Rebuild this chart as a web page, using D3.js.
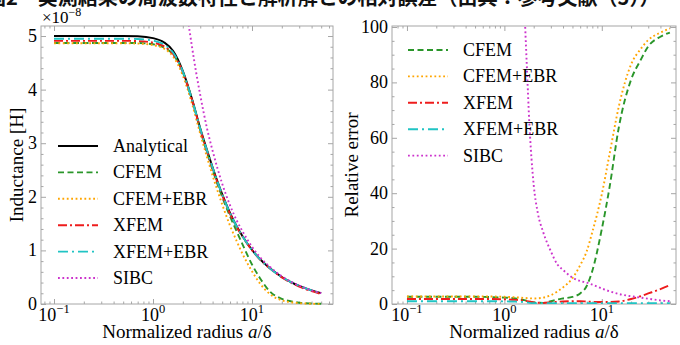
<!DOCTYPE html>
<html>
<head>
<meta charset="utf-8">
<script src="https://cdn.jsdelivr.net/npm/d3@7"></script>
<style>
  body { margin: 0; background: #fff; }
  text { font-family: "Liberation Serif", "Times New Roman", serif; }
</style>
</head>
<body>
<script>
// normalized radius a/delta (shared grid)
const radius = [0.1, 0.15, 0.2, 0.3, 0.5, 0.7, 1, 1.3, 1.6, 2, 2.5, 3, 3.5, 4, 5, 6, 7, 8, 10, 12, 15, 20, 25, 30, 40, 50];

// inductance, x1e-8 H
const analytical = [5, 5, 5, 5, 5, 4.995, 4.96, 4.88, 4.72, 4.35, 3.8, 3.28, 2.88, 2.55, 2.05, 1.7, 1.45, 1.27, 1.01, 0.84, 0.675, 0.505, 0.405, 0.337, 0.253, 0.202];
const cfem = [4.87, 4.87, 4.87, 4.87, 4.87, 4.87, 4.846, 4.782, 4.654, 4.324, 3.785, 3.247, 2.834, 2.499, 1.997, 1.635, 1.356, 1.118, 0.737, 0.487, 0.243, 0.096, 0.049, 0.024, 0.009, 0.004];
const cfemEbr = [4.865, 4.865, 4.865, 4.865, 4.865, 4.86, 4.831, 4.763, 4.616, 4.263, 3.713, 3.175, 2.75, 2.397, 1.859, 1.462, 1.175, 0.94, 0.61, 0.386, 0.192, 0.068, 0.032, 0.016, 0.005, 0.001];
const xfem = [4.91, 4.91, 4.91, 4.91, 4.91, 4.905, 4.876, 4.807, 4.663, 4.324, 3.785, 3.26, 2.857, 2.527, 2.03, 1.683, 1.437, 1.26, 1.003, 0.834, 0.669, 0.496, 0.394, 0.324, 0.239, 0.188];
const xfemEbr = [4.95, 4.95, 4.95, 4.95, 4.95, 4.945, 4.913, 4.839, 4.687, 4.337, 3.789, 3.27, 2.871, 2.542, 2.044, 1.695, 1.446, 1.266, 1.007, 0.837, 0.673, 0.503, 0.404, 0.336, 0.252, 0.201];

// SIBC only shows up above a/delta ~ 1.6
const sibcRadius = [1.6, 1.7, 1.8, 2, 2.2, 2.5, 3, 3.5, 4, 5, 6, 7, 8, 10, 12, 15, 20, 25, 30, 40, 50];
const sibc = [9.8, 8.65, 7.59, 6.22, 5.48, 4.75, 3.9, 3.29, 2.86, 2.245, 1.84, 1.56, 1.36, 1.067, 0.879, 0.699, 0.519, 0.414, 0.343, 0.256, 0.204];

// relative error, %
const errCfem = [2.6, 2.6, 2.6, 2.6, 2.6, 2.5, 2.3, 2.0, 1.4, 0.6, 0.4, 1.0, 1.6, 2.0, 2.6, 3.8, 6.5, 12, 27, 42, 64, 81, 88, 93, 96.5, 98];
const errCfemEbr = [2.7, 2.7, 2.7, 2.7, 2.7, 2.7, 2.6, 2.4, 2.2, 2.0, 2.3, 3.2, 4.5, 6, 9.3, 14, 19, 26, 39.6, 54, 71.5, 86.5, 92, 95.3, 98, 99.5];
const errXfem = [1.8, 1.8, 1.8, 1.8, 1.8, 1.8, 1.7, 1.5, 1.2, 0.6, 0.4, 0.6, 0.8, 0.9, 1.0, 1.0, 0.9, 0.8, 0.7, 0.7, 0.9, 1.8, 2.8, 3.8, 5.4, 6.8];
const errXfemEbr = [1.0, 1.0, 1.0, 1.0, 1.0, 1.0, 0.95, 0.85, 0.7, 0.3, 0.3, 0.3, 0.3, 0.3, 0.3, 0.3, 0.3, 0.3, 0.3, 0.3, 0.3, 0.3, 0.3, 0.3, 0.3, 0.3];
const errSibc = [108, 86, 66, 43, 33, 26, 19, 14.3, 12.3, 9.5, 8.3, 7.7, 7.0, 5.6, 4.6, 3.6, 2.8, 2.3, 1.9, 1.3, 1.0];

const xTickValues = [0.1, 1, 10];
const xTickExponents = ['\u22121', '0', '1'];
const yTicksLeft = [0, 1, 2, 3, 4, 5];
const yTicksRight = [0, 20, 40, 60, 80, 100];

const caption = '図2　実測結果の周波数特性と解析解との相対誤差（出典：参考文献（5））';

const styles = {
  'Analytical': { color: '#000000', dash: null },
  'CFEM': { color: '#2a962a', dash: '6,3.5' },
  'CFEM+EBR': { color: '#ffa500', dash: '1.8,2.6' },
  'XFEM': { color: '#ee1c1c', dash: '9,3,2,3' },
  'XFEM+EBR': { color: '#20c4c4', dash: '10,4,2,4' },
  'SIBC': { color: '#cc33cc', dash: '1.8,2.6' },
};

const width = 680;
const height = 345;
const plotTop = 26;
const plotBottom = 304;
const frameColor = '#a6a6a6';

const svg = d3
  .select('body')
  .append('svg')
  .attr('width', width)
  .attr('height', height)
  .attr('viewBox', [0, 0, width, height]);

// cut-off caption of the page above the figure
svg
  .append('text')
  .attr('x', -14)
  .attr('y', 5)
  .style('font-family', '"Noto Sans CJK JP", sans-serif')
  .style('font-size', '20px')
  .style('font-weight', 'bold')
  .attr('fill', '#111')
  .text(caption);

function minorLog(x) {
  const [a, b] = x.domain();
  const out = [];
  for (let e = -2; e <= 2; e++) {
    for (let m = 2; m <= 9; m++) {
      const v = m * Math.pow(10, e);
      if (v > a && v < b) out.push(v);
    }
  }
  return out;
}

function drawFrame(x, y, left, right, yMajor, yMinor) {
  const g = svg.append('g');
  const xMinor = minorLog(x);
  const noDomain = (s) => s.call((a) => a.select('.domain').remove());
  const tickSets = [
    [d3.axisBottom, x, xTickValues, -5, `translate(0,${plotBottom})`],
    [d3.axisBottom, x, xMinor, -2.5, `translate(0,${plotBottom})`],
    [d3.axisTop, x, xTickValues, -5, `translate(0,${plotTop})`],
    [d3.axisTop, x, xMinor, -2.5, `translate(0,${plotTop})`],
    [d3.axisLeft, y, yMajor, -5, `translate(${left},0)`],
    [d3.axisLeft, y, yMinor, -2.5, `translate(${left},0)`],
    [d3.axisRight, y, yMajor, -5, `translate(${right},0)`],
    [d3.axisRight, y, yMinor, -2.5, `translate(${right},0)`],
  ];
  for (const [axis, sc, vals, size, tr] of tickSets) {
    g.append('g')
      .attr('transform', tr)
      .call(axis(sc).tickValues(vals).tickSize(size).tickFormat(''))
      .call(noDomain)
      .call((a) => a.selectAll('.tick line').attr('stroke', frameColor));
  }
  g.append('rect')
    .attr('x', left)
    .attr('y', plotTop)
    .attr('width', right - left)
    .attr('height', plotBottom - plotTop)
    .attr('fill', 'none')
    .attr('stroke', frameColor)
    .attr('stroke-width', 1);

  // x tick labels 10^n
  xTickValues.forEach((v, i) => {
    const t = g
      .append('text')
      .attr('x', x(v))
      .attr('y', 321)
      .attr('text-anchor', 'middle')
      .style('font-size', '18px');
    t.append('tspan').text('10');
    t.append('tspan').attr('dy', -8).style('font-size', '12.5px').text(xTickExponents[i]);
  });

  // y tick labels
  g.selectAll('.ylab')
    .data(yMajor)
    .join('text')
    .attr('x', left - 4)
    .attr('y', (d) => y(d) + 6)
    .attr('text-anchor', 'end')
    .style('font-size', '18px')
    .text((d) => d);

  // x axis title
  const xt = g
    .append('text')
    .attr('x', (left + right) / 2)
    .attr('y', 338)
    .attr('text-anchor', 'middle')
    .style('font-size', '19px');
  xt.append('tspan').text('Normalized radius ');
  xt.append('tspan').style('font-style', 'italic').text('a');
  xt.append('tspan').text('/δ');
}

function drawSeries(x, y, clipId, name, xs, ys) {
  const st = styles[name];
  const line = d3
    .line()
    .x((d) => x(d[0]))
    .y((d) => y(d[1]))
    .curve(d3.curveMonotoneX);
  svg
    .append('path')
    .datum(xs.map((v, i) => [v, ys[i]]))
    .attr('clip-path', `url(#${clipId})`)
    .attr('fill', 'none')
    .attr('stroke', st.color)
    .attr('stroke-width', 1.9)
    .attr('stroke-dasharray', st.dash)
    .attr('d', line);
}

function drawLegend(names, x0, y0) {
  names.forEach((name, i) => {
    const st = styles[name];
    const yy = y0 + i * 26.4;
    svg
      .append('line')
      .attr('x1', x0)
      .attr('x2', x0 + 40)
      .attr('y1', yy)
      .attr('y2', yy)
      .attr('stroke', st.color)
      .attr('stroke-width', 1.9)
      .attr('stroke-dasharray', st.dash);
    svg
      .append('text')
      .attr('x', x0 + 55)
      .attr('y', yy + 6)
      .style('font-size', '18px')
      .text(name);
  });
}

function addClip(id, left, right) {
  svg
    .append('clipPath')
    .attr('id', id)
    .append('rect')
    .attr('x', left)
    .attr('y', plotTop)
    .attr('width', right - left)
    .attr('height', plotBottom - plotTop + 2);
}

// ---- left panel: inductance ----
const leftL = 41;
const leftR = 333;
const xL = d3.scaleLog().domain([0.0739, 65.8]).range([leftL, leftR]);
const yL = d3.scaleLinear().domain([0, 5.187]).range([plotBottom, plotTop]);
addClip('clipL', leftL, leftR);
drawFrame(xL, yL, leftL, leftR, yTicksLeft, d3.range(0, 5.2, 0.2).filter((v) => Math.abs(v - Math.round(v)) > 1e-6));

drawSeries(xL, yL, 'clipL', 'Analytical', radius, analytical);
drawSeries(xL, yL, 'clipL', 'CFEM', radius, cfem);
drawSeries(xL, yL, 'clipL', 'CFEM+EBR', radius, cfemEbr);
drawSeries(xL, yL, 'clipL', 'XFEM', radius, xfem);
drawSeries(xL, yL, 'clipL', 'XFEM+EBR', radius, xfemEbr);
drawSeries(xL, yL, 'clipL', 'SIBC', sibcRadius, sibc);

drawLegend(['Analytical', 'CFEM', 'CFEM+EBR', 'XFEM', 'XFEM+EBR', 'SIBC'], 58, 146);

// scale factor
const sf = svg.append('text').attr('x', 42).attr('y', 23).style('font-size', '17px');
sf.append('tspan').text('×10');
sf.append('tspan').attr('dy', -7).style('font-size', '12px').text('\u22128');

svg
  .append('text')
  .attr('transform', `translate(23,${(plotTop + plotBottom) / 2}) rotate(-90)`)
  .attr('text-anchor', 'middle')
  .style('font-size', '19px')
  .text('Inductance [H]');

// ---- right panel: relative error ----
const rightL = 392;
const rightR = 676;
const xR = d3.scaleLog().domain([0.0702, 57.8]).range([rightL, rightR]);
const yR = d3.scaleLinear().domain([0, 100.36]).range([plotBottom, plotTop]);
addClip('clipR', rightL, rightR);
drawFrame(xR, yR, rightL, rightR, yTicksRight, d3.range(0, 101, 5).filter((v) => v % 20 !== 0));

drawSeries(xR, yR, 'clipR', 'CFEM', radius, errCfem);
drawSeries(xR, yR, 'clipR', 'CFEM+EBR', radius, errCfemEbr);
drawSeries(xR, yR, 'clipR', 'XFEM', radius, errXfem);
drawSeries(xR, yR, 'clipR', 'XFEM+EBR', radius, errXfemEbr);
drawSeries(xR, yR, 'clipR', 'SIBC', sibcRadius, errSibc);

drawLegend(['CFEM', 'CFEM+EBR', 'XFEM', 'XFEM+EBR', 'SIBC'], 408, 50);

svg
  .append('text')
  .attr('transform', `translate(358,${(plotTop + plotBottom) / 2}) rotate(-90)`)
  .attr('text-anchor', 'middle')
  .style('font-size', '19px')
  .text('Relative error');
</script>
</body>
</html>
